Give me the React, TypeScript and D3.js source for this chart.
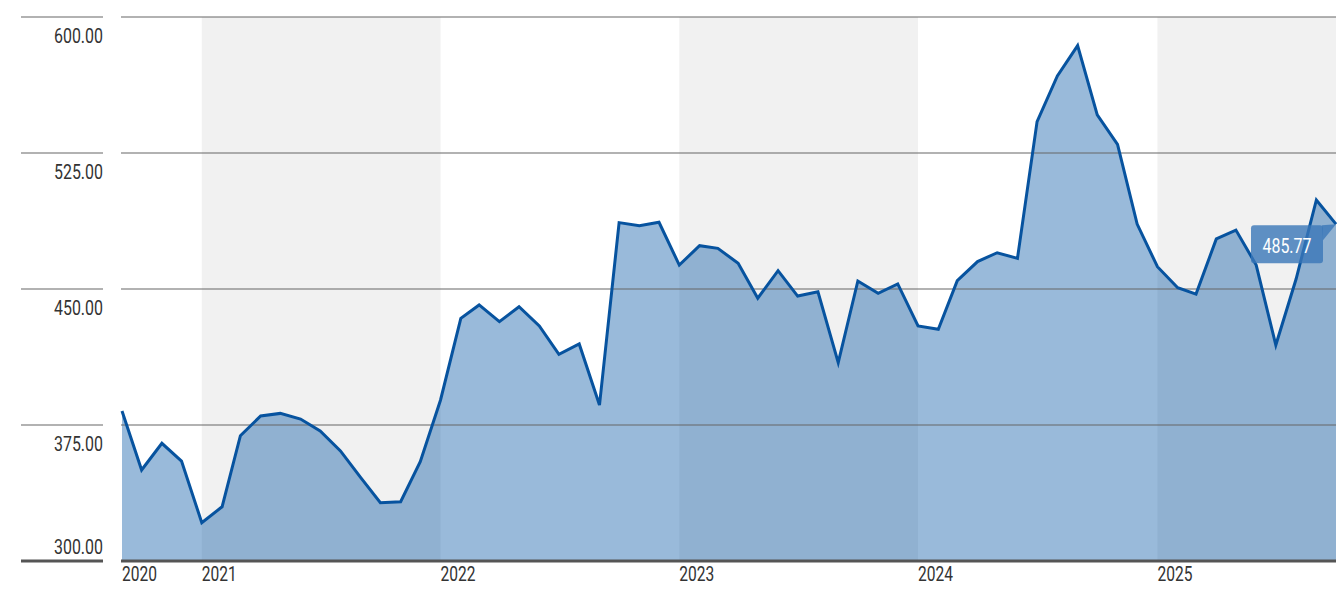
import React from "react";
import * as d3 from "d3";

const startMonth = "2020-09";
const values: number[] = [
  382.7, 350.2, 364.9, 355.1,
  321.1, 329.9, 369.1, 380.0, 381.4, 378.3, 371.7, 360.7, 346.0, 332.1, 332.7, 354.8,
  388.8, 433.8, 441.2, 432.0, 440.2, 429.6, 414.0, 419.7, 386.0, 486.6, 484.9, 486.8,
  463.2, 473.9, 472.4, 464.2, 444.9, 460.1, 446.1, 448.5, 409.4, 454.4, 447.6, 452.8,
  429.6, 427.8, 454.6, 465.1, 470.0, 466.9, 542.3, 567.5, 584.2, 546.0, 529.8, 485.8,
  462.3, 450.7, 447.2, 477.6, 482.5, 463.2, 419.1, 455.5, 499.1, 485.77,
];
const yTicks = [300, 375, 450, 525, 600];
const yearTicks = [2020, 2021, 2022, 2023, 2024, 2025];
const shadedYears = [2021, 2023, 2025];
const lastLabel = "485.77";

const W = 1344;
const H = 605;
const FONT = "Roboto, 'DejaVu Sans Condensed', sans-serif";

export default function App() {
  const start = d3.timeParse("%Y-%m")(startMonth)!;
  const data = values.map((v, i) => ({ date: d3.timeMonth.offset(start, i), v }));
  const x0 = 122, x1 = 1336, yTop = 17, yBot = 561;
  const x = d3.scaleTime().domain([data[0].date, data[data.length - 1].date]).range([x0, x1]);
  const y = d3.scaleLinear().domain([300, 600]).range([yBot, yTop]);

  const area = d3.area<{ date: Date; v: number }>()
    .x((d) => x(d.date)).y0(yBot).y1((d) => y(d.v));
  const line = d3.line<{ date: Date; v: number }>()
    .x((d) => x(d.date)).y((d) => y(d.v));

  const endDate = data[data.length - 1].date;
  const bands = shadedYears.map((yr) => {
    const a = x(new Date(yr, 0, 1));
    const b = Math.min(x(new Date(yr + 1, 0, 1)), x(endDate));
    return { a, b };
  });

  const last = data[data.length - 1];
  const lx = x(last.date), ly = y(last.v);
  const boxR = lx - 13, boxL = boxR - 72, boxT = ly + 1, boxB = ly + 39;

  return (
    <svg width={W} height={H} style={{ display: "block", position: "absolute", left: 0, top: 0 }}>
      <rect x={0} y={0} width={W} height={H} fill="#ffffff" />
      {bands.map((b, i) => (
        <rect key={i} x={b.a} y={yTop} width={b.b - b.a} height={yBot - yTop} fill="#f1f1f1" />
      ))}
      <path d={area(data)!} fill="rgb(0,82,163)" fillOpacity={0.4} />
      {yTicks.map((t) => {
        const yy = y(t);
        const base = t === 300;
        return (
          <g key={t}>
            <line x1={21} x2={103} y1={yy} y2={yy} stroke={base ? "#555" : "#666"} strokeWidth={base ? 3 : 1.2} />
            <line x1={121} x2={x1} y1={yy} y2={yy} stroke={base ? "#555" : "#666"} strokeWidth={base ? 3 : 1.2} />
            <text x={103} y={base ? yy - 7 : yy + 25.5} textAnchor="end" fontFamily={FONT} fontWeight={400}
              fontSize={19.5} fill="#333" textLength={49} lengthAdjust="spacingAndGlyphs">
              {d3.format(".2f")(t)}
            </text>
          </g>
        );
      })}
      <path d={line(data)!} fill="none" stroke="#07539f" strokeWidth={3} strokeLinejoin="miter" />
      {yearTicks.map((yr, i) => {
        const xx = i === 0 ? x0 : x(new Date(yr, 0, 1));
        return (
          <text key={yr} x={xx} y={581} fontFamily={FONT} fontWeight={400} fontSize={19.5} fill="#333"
            textLength={35} lengthAdjust="spacingAndGlyphs">
            {yr}
          </text>
        );
      })}
      <g>
        <rect x={boxL} y={boxT} width={boxR - boxL} height={boxB - boxT} rx={3} fill="#3a77b8" fillOpacity={0.8} />
        <path d={`M${boxR - 1},${boxT} L${lx},${ly} L${boxR},${boxT + 15} Z`} fill="#3a77b8" fillOpacity={0.8} />
        <text x={(boxL + boxR) / 2} y={boxB - 10} textAnchor="middle" fontFamily={FONT} fontWeight={400}
          fontSize={19.5} fill="#ffffff" textLength={49} lengthAdjust="spacingAndGlyphs">
          {lastLabel}
        </text>
      </g>
    </svg>
  );
}
